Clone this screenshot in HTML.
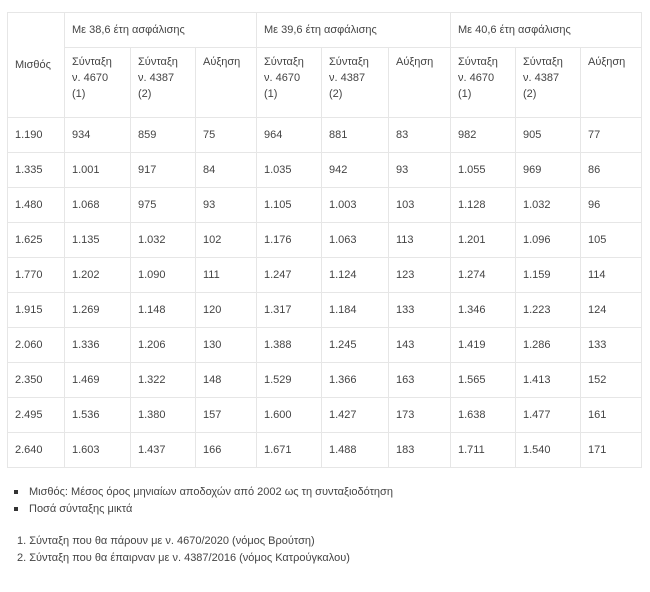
<!DOCTYPE html>
<html><head><meta charset="utf-8"><style>
body{margin:0;width:650px;height:592px;background:#fff;font-family:"Liberation Sans","DejaVu Sans",sans-serif;color:#444;font-size:11px;position:relative;overflow:hidden}
table{position:absolute;left:7px;top:12px;border-collapse:collapse;table-layout:fixed}
td{border:1px solid #e6e6e6;padding:0 0 0 7px;vertical-align:middle;line-height:16px;overflow:hidden;white-space:nowrap}
tr.h1 td{height:34px}
tr.h2 td{height:63px;vertical-align:top;padding-top:6px}
tr.d td{height:34px}
.n{position:absolute;font-size:11px;line-height:14px;white-space:nowrap}
.b{position:absolute;width:4px;height:4px;background:#333}
</style></head><body>
<table>
<colgroup><col style="width:57px"><col style="width:66px"><col style="width:65px"><col style="width:61px"><col style="width:65px"><col style="width:67px"><col style="width:62px"><col style="width:65px"><col style="width:65px"><col style="width:61px"></colgroup>
<tr class="h1"><td rowspan="2" style="vertical-align:middle;padding-top:0">Μισθός</td><td colspan="3">Με 38,6 έτη ασφάλισης</td><td colspan="3">Με 39,6 έτη ασφάλισης</td><td colspan="3">Με 40,6 έτη ασφάλισης</td></tr>
<tr class="h2"><td>Σύνταξη<br>ν. 4670<br>(1)</td><td>Σύνταξη<br>ν. 4387<br>(2)</td><td>Αύξηση</td><td>Σύνταξη<br>ν. 4670<br>(1)</td><td>Σύνταξη<br>ν. 4387<br>(2)</td><td>Αύξηση</td><td>Σύνταξη<br>ν. 4670<br>(1)</td><td>Σύνταξη<br>ν. 4387<br>(2)</td><td>Αύξηση</td></tr>
<tr class="d"><td>1.190</td><td>934</td><td>859</td><td>75</td><td>964</td><td>881</td><td>83</td><td>982</td><td>905</td><td>77</td></tr>
<tr class="d"><td>1.335</td><td>1.001</td><td>917</td><td>84</td><td>1.035</td><td>942</td><td>93</td><td>1.055</td><td>969</td><td>86</td></tr>
<tr class="d"><td>1.480</td><td>1.068</td><td>975</td><td>93</td><td>1.105</td><td>1.003</td><td>103</td><td>1.128</td><td>1.032</td><td>96</td></tr>
<tr class="d"><td>1.625</td><td>1.135</td><td>1.032</td><td>102</td><td>1.176</td><td>1.063</td><td>113</td><td>1.201</td><td>1.096</td><td>105</td></tr>
<tr class="d"><td>1.770</td><td>1.202</td><td>1.090</td><td>111</td><td>1.247</td><td>1.124</td><td>123</td><td>1.274</td><td>1.159</td><td>114</td></tr>
<tr class="d"><td>1.915</td><td>1.269</td><td>1.148</td><td>120</td><td>1.317</td><td>1.184</td><td>133</td><td>1.346</td><td>1.223</td><td>124</td></tr>
<tr class="d"><td>2.060</td><td>1.336</td><td>1.206</td><td>130</td><td>1.388</td><td>1.245</td><td>143</td><td>1.419</td><td>1.286</td><td>133</td></tr>
<tr class="d"><td>2.350</td><td>1.469</td><td>1.322</td><td>148</td><td>1.529</td><td>1.366</td><td>163</td><td>1.565</td><td>1.413</td><td>152</td></tr>
<tr class="d"><td>2.495</td><td>1.536</td><td>1.380</td><td>157</td><td>1.600</td><td>1.427</td><td>173</td><td>1.638</td><td>1.477</td><td>161</td></tr>
<tr class="d"><td>2.640</td><td>1.603</td><td>1.437</td><td>166</td><td>1.671</td><td>1.488</td><td>183</td><td>1.711</td><td>1.540</td><td>171</td></tr>
</table>
<div class="b" style="left:14px;top:490px"></div>
<div class="n" style="left:29px;top:485px">Μισθός: Μέσος όρος μηνιαίων αποδοχών από 2002 ως τη συνταξιοδότηση</div>
<div class="b" style="left:14px;top:507px"></div>
<div class="n" style="left:29px;top:502px">Ποσά σύνταξης μικτά</div>
<div class="n" style="left:17px;top:534px">1. Σύνταξη που θα πάρουν με ν. 4670/2020 (νόμος Βρούτση)</div>
<div class="n" style="left:17px;top:551px">2. Σύνταξη που θα έπαιρναν με ν. 4387/2016 (νόμος Κατρούγκαλου)</div>
</body></html>
